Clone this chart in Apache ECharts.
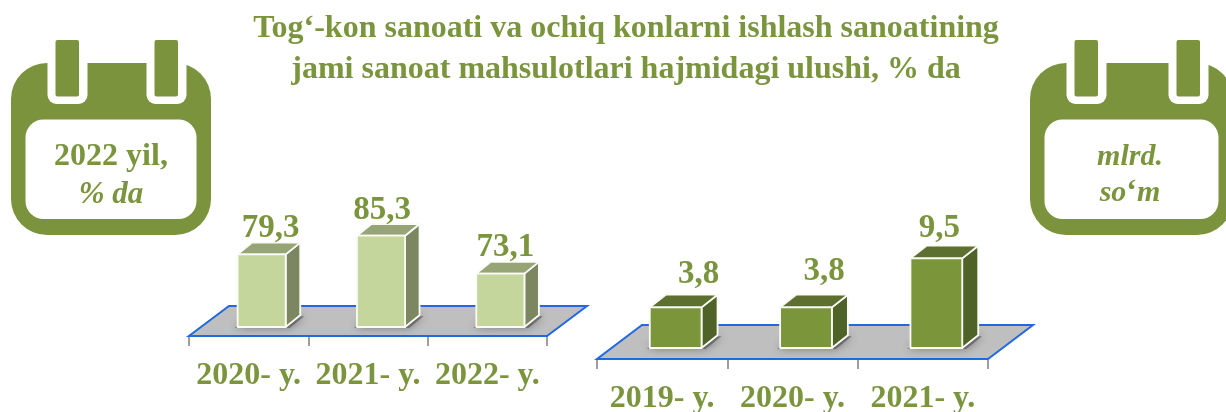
<!DOCTYPE html>
<html>
<head>
<meta charset="utf-8">
<style>html,body{margin:0;padding:0;background:#fff}#c{width:1226px;height:412px}</style>
<script src="https://cdn.jsdelivr.net/npm/echarts@6/dist/echarts.min.js"></script>
</head>
<body>
<div id="c"></div>
<script>
// ---- data ----
const titleLines = ['Tog‘-kon sanoati va ochiq konlarni ishlash sanoatining', 'jami sanoat mahsulotlari hajmidagi ulushi, % da'];
const shareCategories = ['2020- y.', '2021- y.', '2022- y.'];
const shareValues = [79.3, 85.3, 73.1];
const volumeCategories = ['2019- y.', '2020- y.', '2021- y.'];
const volumeValues = [3.8, 3.8, 9.5];

// ---- style ----
const FONT = '"Liberation Serif","Times New Roman",serif';
const GREEN = '#7a953d';
const leftStyle = {front:'#c4d69b', side:'#7c8762', top:'#97a476', dx:14.5, dy:11.7, inset:9, barFrac:0.403, shift:13,
  floorDx:40, floorDy:30, labelDx:[9,1,5], labelGap:[6,5,6]};
const rightStyle = {front:'#7b953b', side:'#4f6228', top:'#5d7030', dx:16, dy:12.7, inset:11, barFrac:0.397, shift:13.5,
  floorDx:45, floorDy:34, labelDx:[23,18,3], labelGap:[12,15,9]};

function floorSeries(gridIndex, st) {
  return {
    type:'custom', xAxisIndex:gridIndex, yAxisIndex:gridIndex, silent:true, clip:false, z:1,
    data:[[0,0]], encode:{x:0,y:1},
    renderItem(params) {
      const g = params.coordSys, b = g.y + g.height;
      return {type:'polygon', shape:{points:[
        [g.x,b],[g.x+g.width,b],[g.x+g.width+st.floorDx,b-st.floorDy],[g.x+st.floorDx,b-st.floorDy]]},
        style:{fill:'#bfbfbf', stroke:'#2169e0', lineWidth:2, lineJoin:'miter'}};
    }
  };
}
function barSeries(gridIndex, st, values) {
  return {
    type:'custom', xAxisIndex:gridIndex, yAxisIndex:gridIndex, silent:true, clip:false, z:3,
    data:values.map((v,i)=>[i,v]), encode:{x:0,y:1},
    renderItem(params, api) {
      const i = api.value(0), v = api.value(1);
      const p = api.coord([i,v]);
      const band = api.size([1,0])[0];
      const w = band*st.barFrac;
      const g = params.coordSys;
      const base = g.y + g.height - st.inset;
      const x = p[0] + st.shift - w/2, t = p[1];
      const line = {stroke:'#fafbf6', lineWidth:1.8, lineJoin:'round'};
      return {type:'group', children:[
        {type:'polygon', shape:{points:[[x-3,base+1],[x+w+4,base+1],[x+w+st.dx+4,base-st.dy+1],[x+st.dx,base-st.dy+1]]},
          style:{fill:'rgba(70,70,70,0.55)', shadowBlur:9, shadowColor:'rgba(50,50,50,0.9)'}},
        {type:'polygon', shape:{points:[[x+w,base],[x+w+st.dx,base-st.dy],[x+w+st.dx,t-st.dy],[x+w,t]]}, style:Object.assign({fill:st.side},line)},
        {type:'polygon', shape:{points:[[x,t],[x+w,t],[x+w+st.dx,t-st.dy],[x+st.dx,t-st.dy]]}, style:Object.assign({fill:st.top},line)},
        {type:'polygon', shape:{points:[[x,base],[x+w,base],[x+w,t],[x,t]]}, style:Object.assign({fill:st.front},line)},
        {type:'text', style:{text:String(v).replace('.',','), x:x+w/2+st.labelDx[i], y:t-st.dy-st.labelGap[i]+8,
          align:'center', verticalAlign:'bottom', fill:GREEN, font:'bold 33px '+FONT}}
      ]};
    }
  };
}
function calendar(x0, w, lines) {
  const out = [];
  const notchL = x0+36.5, notchR = x0+w-64.5;
  const add = (o)=>out.push(Object.assign({z:10},o));
  add({type:'rect', shape:{x:x0,y:63,width:w,height:172,r:36}, style:{fill:'#7a933c'}});
  [notchL, notchR].forEach(n=>{
    add({type:'rect', shape:{x:n,y:62,width:40,height:42,r:[0,0,9,9]}, style:{fill:'#fff'}});
    add({type:'rect', shape:{x:n+8,y:40,width:23.5,height:56.5,r:2}, style:{fill:'#7a933c'}, z:11});
  });
  add({type:'rect', shape:{x:x0+14.5,y:119.5,width:w-29,height:99.5,r:18}, style:{fill:'#fff'}});
  lines.forEach(l=>add({type:'text', z:12, style:Object.assign({x:x0+w/2-l.back, y:l.y, align:'center', verticalAlign:'middle', fill:GREEN}, l.style)}));
  return out;
}
const ital = 'italic bold 30px '+FONT, bold = 'bold 32px '+FONT;
const graphicEls = [].concat(
  calendar(11,200,[
    {back:0,y:157,style:{text:'2022 yil,',font:bold}},
    {back:0,y:195,style:{text:'% da',font:'italic bold 31px '+FONT}}
  ]),
  calendar(1030,203,[
    {back:1.5,y:157,style:{text:'mlrd.',font:ital}},
    {back:1.5,y:193,style:{text:'{i|so}{b|‘}{i|m}',rich:{i:{font:ital,fill:GREEN},b:{font:bold,fill:GREEN}}}}
  ])
);

const catAxis = (gridIndex, data, margin)=>({
  type:'category', gridIndex, data, boundaryGap:true,
  axisLine:{show:false,onZero:false},
  axisTick:{show:true,length:10,lineStyle:{color:'#7f7f7f',width:1.5}},
  axisLabel:{color:GREEN,fontFamily:FONT,fontWeight:'bold',fontSize:32,margin,interval:0}
});

const option = {
  backgroundColor:'#fff',
  animation:false,
  title:{left:621,top:3,textAlign:'center',text:titleLines.join('\n'),
    textStyle:{color:GREEN,fontFamily:FONT,fontWeight:'bold',fontSize:32,lineHeight:41}},
  grid:[
    {left:189,width:358,top:100,height:236,outerBoundsMode:'none'},
    {left:597,width:391,top:120,height:239,outerBoundsMode:'none'}
  ],
  xAxis:[catAxis(0,shareCategories,24),catAxis(1,volumeCategories,24)],
  yAxis:[
    {type:'value',gridIndex:0,min:53,max:129,show:false},
    {type:'value',gridIndex:1,min:-2.2,max:25.6,show:false}
  ],
  graphic:graphicEls,
  series:[
    floorSeries(0,leftStyle), barSeries(0,leftStyle,shareValues),
    floorSeries(1,rightStyle), barSeries(1,rightStyle,volumeValues)
  ]
};
echarts.init(document.getElementById('c')).setOption(option);
</script>
</body>
</html>
